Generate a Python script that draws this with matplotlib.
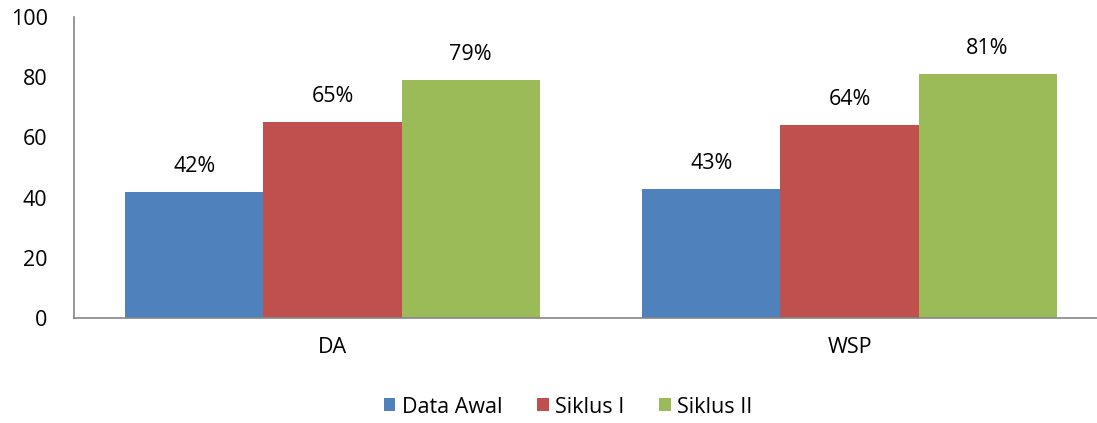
import matplotlib
matplotlib.use("Agg")
import matplotlib.pyplot as plt
import numpy as np

categories = ["DA", "WSP"]
series_names = ["Data Awal", "Siklus I", "Siklus II"]
data_awal = [42, 43]
siklus_1 = [65, 64]
siklus_2 = [79, 81]
colors = ["#4F81BD", "#C0504D", "#9BBB59"]
yticks = [0, 20, 40, 60, 80, 100]

plt.rcParams['font.family'] = ['Open Sans', 'DejaVu Sans']
FS = 15.5

fig = plt.figure(figsize=(10.97, 4.23), dpi=100)
ax = fig.add_axes([74/1097, 1 - 318/423, 1034/1097, 301/423])

x = np.arange(len(categories))
w = 0.267
all_series = [data_awal, siklus_1, siklus_2]
handles = []
for i, (vals, c, name) in enumerate(zip(all_series, colors, series_names)):
    bars = ax.bar(x + (i - 1) * w, vals, w, color=c, label=name)
    handles.append(bars)
    for xi, v in zip(x + (i - 1) * w, vals):
        ax.text(xi, v + 5, f"{v}%", ha="center", va="bottom", fontsize=FS, color="black")

ax.set_xlim(-0.5, 1.5)
ax.set_ylim(0, 100)
ax.set_yticks(yticks)
ax.set_xticks(x)
ax.set_xticklabels(categories)
ax.tick_params(axis="both", length=0, labelsize=FS, colors="black")
ax.tick_params(axis="y", pad=19)
ax.tick_params(axis="x", pad=14)
for s in ["top", "right"]:
    ax.spines[s].set_visible(False)
for s in ["left", "bottom"]:
    ax.spines[s].set_color("#868686")
    ax.spines[s].set_linewidth(1.2)

fig.legend(handles=handles, labels=series_names, loc="center", bbox_to_anchor=(568/1097, 1 - 407/423),
           ncol=3, frameon=False, fontsize=FS, handlelength=0.55, handleheight=0.55,
           handletextpad=0.3, columnspacing=1.6)

fig.savefig("out.png", dpi=100)
